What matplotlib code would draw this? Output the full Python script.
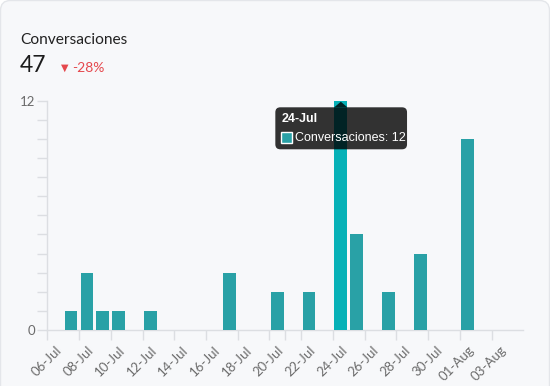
import numpy as np
import pandas as pd
import matplotlib
matplotlib.use("Agg")
import matplotlib.pyplot as plt
import matplotlib.transforms as mtransforms
from matplotlib.patches import FancyBboxPatch, Polygon, Rectangle

# Daily data, 06-Jul .. 04-Aug
dates = pd.date_range("2020-07-06", "2020-08-04")
day_labels = [d.strftime("%d-%b") for d in dates]
conversaciones = [0, 1, 3, 1, 1, 0, 1, 0, 0, 0,
                  0, 3, 0, 0, 2, 0, 2, 0, 12, 5,
                  0, 2, 0, 4, 0, 0, 10, 0, 0, 0]
highlight_day = "24-Jul"
total = 47
change = "-28%"

bar_color = "#29a1a6"
highlight_color = "#06b1b7"
axis_color = "#dcdee2"
label_color = "#6b6b6b"

W, H = 550, 386
fig = plt.figure(figsize=(W / 100, H / 100), dpi=100)
fig.patch.set_facecolor("white")
px = mtransforms.IdentityTransform()

# card background
card = FancyBboxPatch((0.5, -20), W - 1, H + 19.5, boxstyle="round,pad=0,rounding_size=10",
                      facecolor="#f7f8fa", edgecolor="#e4e6ea", linewidth=1, transform=px,
                      zorder=-10)
fig.add_artist(card)

# header
fig.text(20.5, H - 44, "Conversaciones", transform=px, fontsize=11.2, color="#222222",
         family="Lato", va="baseline")
fig.text(19.5, H - 72, str(total), transform=px, fontsize=16.5, color="#1c1c1c",
         family="Lato", va="baseline")
fig.text(60.5, H - 70.5, "▼", transform=px, fontsize=7, color="#e5484d",
         family="DejaVu Sans", va="baseline")
fig.text(72, H - 72, change, transform=px, fontsize=10, color="#e5484d",
         family="Lato", va="baseline")

ax = fig.add_axes([47.3 / W, 56 / H, 476 / W, 229.3 / H])
ax.set_facecolor("none")

x = np.arange(len(dates)) + 0.5
colors = [highlight_color if d == highlight_day else bar_color for d in day_labels]
ax.bar(x, conversaciones, width=0.8, color=colors, zorder=3)

ax.set_xlim(0, len(dates))
ax.set_ylim(0, 12)
for s in ["top", "right"]:
    ax.spines[s].set_visible(False)
for s in ["left", "bottom"]:
    ax.spines[s].set_color(axis_color)
    ax.spines[s].set_linewidth(1)

ax.set_yticks(range(13))
ax.set_yticklabels(["0"] + [""] * 11 + ["12"])
ax.tick_params(axis="y", length=7.5, width=1, color=axis_color, labelcolor=label_color,
               labelsize=9.5, pad=1)

tick_pos = np.arange(0, len(dates), 2)
ax.set_xticks(tick_pos)
ax.set_xticklabels([day_labels[i] for i in tick_pos])
ax.set_xticks([day_labels.index("21-Jul")], minor=True)
ax.tick_params(axis="x", which="both", length=7, width=1, color=axis_color,
               labelcolor=label_color, labelsize=9.5, pad=3)
shift = mtransforms.ScaledTranslation(8 / 100, 0, fig.dpi_scale_trans)
for t in ax.get_xticklabels():
    t.set_rotation(45)
    t.set_ha("right")
    t.set_va("top")
    t.set_rotation_mode("anchor")
    t.set_transform(t.get_transform() + shift)
for t in ax.get_xticklabels() + ax.get_yticklabels():
    t.set_family("Lato")

# tooltip over the highlighted bar
i = day_labels.index(highlight_day)
bx, by = ax.transData.transform((x[i], conversaciones[i]))
tip = FancyBboxPatch((bx - 65.5, by - 48.6), 131.7, 42, boxstyle="round,pad=0,rounding_size=5",
                     facecolor=(0, 0, 0, 0.8), edgecolor="none", transform=px, zorder=10)
fig.add_artist(tip)
fig.add_artist(Polygon([(bx - 6.5, by - 6.6), (bx + 6.5, by - 6.6), (bx, by - 1)],
                       closed=True, facecolor=(0, 0, 0, 0.8), edgecolor="none",
                       transform=px, zorder=10))
fig.text(bx - 59.5, by - 21.6, highlight_day, transform=px, fontsize=9, fontweight="bold",
         color="white", family="Liberation Sans", va="baseline", zorder=11)
fig.add_artist(Rectangle((bx - 59.5, by - 42.6), 11, 11, facecolor=bar_color,
                         edgecolor="white", linewidth=1, transform=px, zorder=11))
fig.text(bx - 46, by - 40.5, f"Conversaciones: {conversaciones[i]}", transform=px,
         fontsize=9, color="white", family="Liberation Sans", va="baseline", zorder=11)

fig.savefig("out.png", dpi=100)
